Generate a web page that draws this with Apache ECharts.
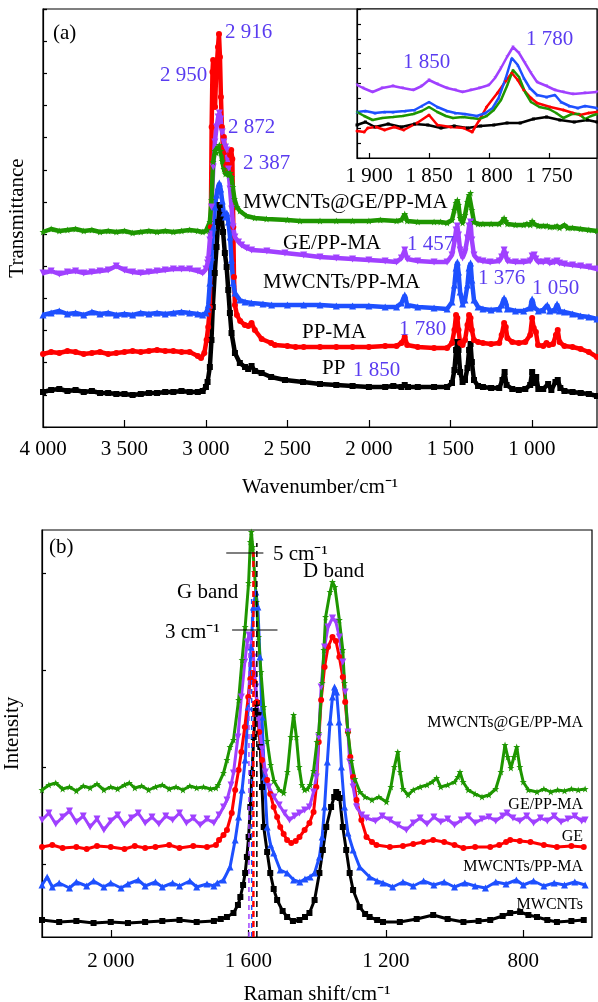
<!DOCTYPE html>
<html><head><meta charset="utf-8">
<script src="https://cdn.jsdelivr.net/npm/echarts@6/dist/echarts.min.js"></script>
<style>html,body{margin:0;padding:0;background:#fff}#c{width:598px;height:1002px}</style>
</head><body><div id="c"></div>
<script>
// ---------- Panel (a): FTIR, [wavenumber, transmittance (a.u., offset)] ----------
const aPP = [[4000,35],[3950,37],[3900,38],[3850,36],[3800,37],[3750,35],[3700,36],[3650,34],[3600,34],[3550,33],[3500,33],[3450,32],[3400,33],[3350,34],[3300,34],[3250,35],[3200,35],[3150,36],[3100,35],[3050,35],[3020,36],[3000,40],[2990,45],[2976,60],[2966,87],[2958,120],[2946,154],[2935,180],[2925,205],[2916,222],[2905,212],[2895,195],[2884,174],[2873,160],[2863,137],[2853,114],[2843,94],[2822,74],[2792,64],[2760,60],[2741,58],[2720,61],[2700,56],[2658,54],[2600,50],[2515,47],[2404,45],[2300,43],[2200,42],[2100,41],[2000,40],[1900,40],[1850,41],[1800,40],[1780,42],[1760,40],[1700,40],[1600,40],[1520,40],[1490,44],[1475,57],[1465,77],[1457,85],[1450,77],[1440,55],[1425,45],[1410,47],[1395,59],[1385,77],[1376,83],[1368,65],[1355,47],[1330,41],[1300,40],[1250,39],[1200,39],[1180,47],[1167,55],[1155,42],[1120,38],[1080,37],[1040,38],[1010,42],[998,55],[985,44],[973,50],[960,38],[930,38],[900,43],[880,37],[855,45],[841,47],[825,39],[800,36],[750,35],[700,34],[650,33],[600,31]];
const aPPMA = [[4000,73],[3950,75],[3900,74],[3850,76],[3800,75],[3750,73],[3700,74],[3650,75],[3600,73],[3550,74],[3500,75],[3450,76],[3400,75],[3350,76],[3300,77],[3250,76],[3200,76],[3150,75],[3100,75],[3050,71],[3030,69],[3010,74],[2996,87],[2986,100],[2976,120],[2970,200],[2965,300],[2960,355],[2956,367],[2950,340],[2944,320],[2938,350],[2932,365],[2926,380],[2920,393],[2914,370],[2908,330],[2902,300],[2896,280],[2890,290],[2884,275],[2876,262],[2868,255],[2860,262],[2852,272],[2845,277],[2838,268],[2832,200],[2828,150],[2822,122],[2810,112],[2790,106],[2761,102],[2740,101],[2720,104],[2700,97],[2658,88],[2600,84],[2577,82],[2500,81],[2450,80],[2400,80],[2300,80],[2200,80],[2100,80],[2000,80],[1900,81],[1830,81],[1800,84],[1780,90],[1765,82],[1700,80],[1600,79],[1520,79],[1490,84],[1475,97],[1465,112],[1457,109],[1450,97],[1440,84],[1425,82],[1410,87],[1395,102],[1385,112],[1376,109],[1368,97],[1355,87],[1330,85],[1300,84],[1250,83],[1200,84],[1185,92],[1170,104],[1160,100],[1150,89],[1120,85],[1080,84],[1040,85],[1010,92],[998,109],[988,99],[975,95],[962,82],[930,81],[910,84],[895,82],[870,83],[852,92],[841,97],[830,85],[800,81],[750,80],[700,78],[650,75],[600,70]];
const aMWPPMA = [[4000,112],[3950,114],[3900,116],[3850,113],[3800,114],[3750,112],[3700,115],[3650,113],[3600,114],[3550,112],[3500,113],[3450,112],[3400,114],[3350,113],[3300,114],[3250,113],[3200,114],[3150,115],[3100,114],[3050,113],[3020,112],[3000,114],[2990,118],[2986,122],[2976,144],[2966,170],[2955,200],[2945,220],[2935,232],[2925,240],[2918,244],[2910,238],[2900,226],[2890,214],[2880,210],[2872,214],[2862,205],[2852,190],[2843,167],[2833,144],[2822,134],[2792,127],[2760,125],[2720,124],[2650,123],[2597,122],[2500,122],[2400,122],[2300,122],[2200,121],[2100,121],[2000,121],[1900,120],[1830,120],[1800,124],[1780,132],[1765,122],[1700,120],[1600,119],[1520,118],[1490,125],[1475,142],[1465,159],[1457,165],[1450,155],[1440,135],[1425,123],[1410,127],[1395,142],[1385,159],[1376,164],[1368,147],[1355,127],[1330,120],[1300,118],[1250,117],[1200,118],[1185,122],[1170,129],[1160,125],[1150,118],[1100,116],[1050,116],[1010,119],[998,128],[985,120],[960,116],[930,117],[905,122],[890,116],[860,117],[845,123],[830,116],[800,115],[750,113],[700,111],[650,110],[600,108]];
const aGEPPMA = [[4000,154],[3950,156],[3900,153],[3850,155],[3800,156],[3750,154],[3700,155],[3650,156],[3600,157],[3550,161],[3500,157],[3450,155],[3400,154],[3350,155],[3300,156],[3250,157],[3200,158],[3150,158],[3100,158],[3050,156],[3020,154],[3000,158],[2990,164],[2986,167],[2976,187],[2966,220],[2955,260],[2945,285],[2935,300],[2925,310],[2918,314],[2910,308],[2900,295],[2890,285],[2880,280],[2872,277],[2862,258],[2852,238],[2842,218],[2833,200],[2822,190],[2800,185],[2781,182],[2750,179],[2720,177],[2626,176],[2515,174],[2400,172],[2300,170],[2200,169],[2100,168],[2000,167],[1900,166],[1830,165],[1800,169],[1780,177],[1765,168],[1700,166],[1600,165],[1520,165],[1490,172],[1475,185],[1465,197],[1457,201],[1450,192],[1440,177],[1425,169],[1410,175],[1395,189],[1385,201],[1376,205],[1368,187],[1355,172],[1330,167],[1300,166],[1256,165],[1200,166],[1185,170],[1170,177],[1160,172],[1150,166],[1100,165],[1050,165],[1010,166],[998,171],[985,172],[975,168],[960,165],[930,165],[905,166],[890,164],[860,165],[845,166],[830,164],[800,163],[750,162],[700,161],[650,160],[600,158]];
const aMWGEPPMA = [[4000,195],[3950,198],[3900,196],[3850,197],[3800,198],[3750,196],[3700,197],[3650,195],[3600,196],[3550,195],[3500,196],[3450,194],[3400,195],[3350,196],[3300,195],[3250,196],[3200,195],[3150,196],[3100,197],[3050,196],[3020,195],[3000,196],[2990,197],[2976,205],[2966,227],[2956,265],[2945,276],[2935,274],[2925,280],[2918,282],[2910,276],[2900,266],[2890,258],[2880,253],[2870,255],[2860,252],[2850,254],[2843,250],[2835,240],[2825,228],[2810,220],[2792,216],[2751,211],[2700,209],[2628,208],[2500,207],[2423,206],[2300,206],[2200,206],[2100,206],[2000,206],[1930,207],[1830,206],[1800,207],[1780,213],[1765,206],[1700,205],[1600,205],[1560,205],[1520,204],[1490,207],[1475,217],[1465,224],[1457,227],[1450,222],[1440,209],[1425,204],[1410,212],[1395,225],[1385,232],[1376,234],[1368,217],[1355,205],[1330,203],[1300,203],[1250,203],[1200,203],[1185,205],[1170,209],[1160,206],[1150,203],[1100,202],[1050,202],[1030,203],[1010,202],[998,206],[985,203],[960,201],[930,201],[905,201],[890,200],[860,200],[845,201],[830,199],[800,202],[780,199],[750,199],[700,198],[650,197],[600,196]];

// ---------- Inset (1910-1710 cm-1) ----------
const insPP = [[1910,33],[1903,36],[1895,31],[1884,34],[1873,31],[1862,34],[1851,33],[1840,30],[1829,32],[1818,30],[1807,32],[1796,33],[1785,35],[1774,35],[1763,39],[1752,41],[1741,38],[1729,36],[1718,38],[1710,36]];
const insPPMA = [[1910,27],[1904,26],[1901,30],[1894,31],[1887,28],[1879,31],[1871,28],[1860,35],[1850,43],[1843,33],[1832,31],[1821,30],[1814,26],[1808,38],[1802,51],[1793,65],[1786,77],[1781,85],[1776,78],[1771,68],[1765,60],[1760,55],[1749,51],[1738,48],[1730,45],[1724,43],[1717,45],[1710,46]];
const insMWPPMA = [[1910,46],[1903,47],[1895,45],[1887,46],[1880,46],[1870,47],[1862,48],[1856,52],[1850,56],[1843,51],[1835,47],[1828,45],[1820,44],[1810,42],[1803,45],[1797,50],[1792,60],[1786,80],[1781,100],[1776,93],[1771,80],[1766,70],[1760,63],[1752,61],[1745,63],[1740,56],[1733,52],[1726,50],[1720,52],[1710,50]];
const insGEPPMA = [[1910,73],[1905,70],[1897,66],[1889,70],[1880,72],[1872,70],[1863,68],[1856,72],[1850,78],[1843,74],[1835,70],[1828,68],[1822,66],[1815,68],[1808,70],[1800,73],[1795,80],[1790,90],[1785,101],[1780,111],[1775,105],[1770,95],[1765,85],[1760,76],[1752,72],[1745,68],[1738,66],[1730,64],[1720,65],[1710,66]];
const insMWGEPPMA = [[1910,46],[1904,42],[1897,38],[1889,40],[1880,41],[1872,42],[1863,44],[1856,47],[1850,51],[1843,46],[1836,42],[1830,40],[1822,41],[1815,40],[1808,39],[1802,42],[1796,48],[1790,58],[1785,72],[1780,88],[1775,81],[1770,66],[1765,56],[1758,51],[1750,49],[1744,45],[1738,40],[1731,44],[1725,44],[1720,39],[1715,42],[1710,44]];

// ---------- Panel (b): Raman, [Raman shift, intensity (a.u., offset)] ----------
const bMWCNTs = [[2200,17],[2150,15],[2100,16],[2050,14],[2000,15],[1950,14],[1900,15],[1850,16],[1800,17],[1750,15],[1700,16],[1680,18],[1662,20],[1643,24],[1630,32],[1623,40],[1615,52],[1609,64],[1604,80],[1599,100],[1594,130],[1589,164],[1584,200],[1579,226],[1575,234],[1570,222],[1565,190],[1560,150],[1555,110],[1545,85],[1536,64],[1526,48],[1516,37],[1500,26],[1487,20],[1470,16],[1451,17],[1435,20],[1422,24],[1407,37],[1393,64],[1383,87],[1373,110],[1359,130],[1350,140],[1344,145],[1339,143],[1334,139],[1325,110],[1315,87],[1305,64],[1295,47],[1276,30],[1260,23],[1247,20],[1225,17],[1208,15],[1159,15],[1110,18],[1062,22],[1020,18],[974,15],[930,16],[896,17],[860,21],[838,24],[809,25],[785,22],[760,20],[730,17],[702,15],[660,16],[624,17]];
const bMWPPMA = [[2200,52],[2185,60],[2170,50],[2150,54],[2120,49],[2100,55],[2070,51],[2050,56],[2020,50],[2000,54],[1970,49],[1950,53],[1920,57],[1900,51],[1870,55],[1850,50],[1820,54],[1800,51],[1770,56],[1750,50],[1720,53],[1700,51],[1690,54],[1672,57],[1653,70],[1638,97],[1628,120],[1618,147],[1609,177],[1600,230],[1592,290],[1585,330],[1578,345],[1572,330],[1566,280],[1560,220],[1553,160],[1545,110],[1535,92],[1526,84],[1507,67],[1487,64],[1468,57],[1450,55],[1435,58],[1420,60],[1407,64],[1393,80],[1385,100],[1378,130],[1370,175],[1362,215],[1355,240],[1349,250],[1343,245],[1336,215],[1329,170],[1320,130],[1310,104],[1295,87],[1276,70],[1247,60],[1225,56],[1208,54],[1180,50],[1150,55],[1120,51],[1090,56],[1060,52],[1030,55],[1000,50],[970,54],[940,51],[910,49],[880,55],[850,53],[820,57],[800,52],[770,56],[740,51],[710,54],[680,52],[650,55],[620,52]];
const bGE = [[2200,90],[2170,92],[2140,89],[2100,90],[2070,88],[2040,91],[2000,90],[1960,88],[1930,91],[1900,89],[1870,90],[1830,92],[1800,89],[1760,91],[1720,90],[1694,92],[1685,97],[1672,102],[1662,107],[1648,124],[1638,147],[1628,167],[1620,185],[1610,210],[1600,240],[1594,258],[1588,264],[1582,255],[1575,235],[1568,205],[1560,177],[1545,157],[1536,143],[1526,130],[1516,120],[1507,110],[1497,103],[1487,97],[1475,94],[1462,96],[1451,100],[1436,107],[1422,114],[1410,125],[1402,150],[1395,195],[1388,237],[1378,270],[1368,290],[1355,300],[1345,296],[1335,280],[1325,260],[1318,235],[1310,205],[1303,180],[1295,160],[1285,137],[1271,117],[1256,100],[1240,95],[1227,92],[1188,90],[1150,91],[1120,93],[1090,95],[1062,97],[1030,95],[1000,92],[974,89],[940,90],[896,90],[870,92],[850,95],[838,97],[810,96],[779,95],[740,92],[702,90],[660,91],[624,90]];
const bGEPPMA = [[2200,117],[2180,124],[2160,113],[2140,120],[2120,126],[2100,115],[2080,121],[2060,110],[2040,118],[2020,107],[2000,116],[1980,122],[1960,112],[1940,119],[1920,124],[1900,114],[1880,120],[1860,113],[1840,121],[1820,117],[1800,124],[1780,114],[1760,119],[1740,112],[1720,118],[1700,114],[1685,122],[1672,130],[1662,137],[1650,152],[1643,164],[1630,200],[1620,240],[1610,275],[1603,295],[1598,302],[1592,298],[1585,280],[1578,250],[1570,218],[1560,188],[1550,165],[1540,150],[1525,140],[1510,132],[1495,124],[1480,117],[1465,121],[1451,124],[1436,127],[1422,130],[1410,145],[1402,160],[1395,200],[1388,250],[1378,290],[1368,310],[1355,319],[1345,315],[1335,300],[1325,275],[1318,245],[1310,205],[1305,175],[1295,150],[1285,130],[1270,122],[1256,119],[1230,116],[1210,121],[1188,117],[1165,112],[1140,107],[1120,114],[1100,119],[1080,113],[1060,120],[1040,115],[1020,118],[1000,112],[980,117],[960,121],[940,114],[920,118],[900,120],[880,116],[860,121],[847,124],[830,119],[810,116],[790,121],[770,114],[750,119],[730,116],[710,121],[690,115],[670,118],[650,121],[630,116],[620,117]];
const bMWGEPPMA = [[2200,147],[2180,152],[2160,154],[2140,148],[2120,150],[2100,146],[2080,151],[2060,149],[2040,153],[2020,147],[2000,150],[1980,148],[1960,152],[1946,154],[1930,149],[1910,151],[1890,147],[1870,150],[1850,152],[1830,148],[1810,150],[1790,147],[1770,151],[1750,149],[1730,150],[1710,148],[1694,149],[1688,152],[1672,164],[1662,177],[1653,190],[1643,197],[1628,237],[1618,277],[1609,310],[1599,354],[1594,395],[1591,405],[1587,390],[1582,365],[1576,335],[1570,300],[1563,265],[1555,230],[1545,196],[1535,172],[1525,156],[1510,147],[1497,144],[1486,165],[1476,200],[1468,222],[1460,200],[1452,170],[1444,152],[1436,147],[1428,148],[1420,152],[1410,166],[1400,195],[1395,204],[1385,254],[1380,287],[1375,320],[1362,345],[1355,355],[1348,350],[1335,317],[1325,287],[1320,254],[1310,204],[1300,176],[1290,158],[1275,145],[1260,140],[1240,137],[1220,140],[1198,135],[1185,150],[1175,170],[1165,185],[1158,165],[1150,148],[1135,142],[1120,147],[1100,150],[1080,152],[1065,155],[1052,159],[1040,150],[1020,152],[1000,155],[990,160],[984,165],[975,155],[960,147],[940,143],[920,140],[900,142],[880,148],[865,165],[853,192],[845,180],[836,169],[827,180],[819,190],[810,170],[800,155],[785,147],[760,145],[740,148],[720,145],[700,147],[680,146],[660,148],[640,147],[620,148]];

// G-band guide lines and shift bars (Raman shift, intensity)
const gLineBlack = [[1575,0],[1575,394]];
const gLineRed = [[1585,0],[1585,385]];
const gLineBlue = [[1590,0],[1590,340]];
const gLinePurple = [[1598,0],[1598,300]];
const bar5 = [[1664,384],[1556,384]];
const bar3 = [[1647,307],[1515,307]];

// tick labels
const aTicks = [1000,1500,2000,2500,3000,3500,4000];
const insTicks = [1750,1800,1850,1900];
const bTicks = [800,1200,1600,2000];
const bYTicks = [73,170,267,364];

const FF = "'Liberation Serif','Times New Roman',serif";
const C = {k:'#000000', r:'#ff0000', b:'#1e50ff', p:'#a040ff', g:'#1e9600', ann:'#5a3cf0'};
const SYM = {
  k:'rect', r:'circle', b:'triangle',
  p:'path://M0,0L10,0L5,9Z',
  g:'path://M5,0L6.2,3.5L10,3.5L7,5.8L8.1,9.5L5,7.2L1.9,9.5L3,5.8L0,3.5L3.8,3.5Z'
};
const fmt = v => String(v).replace(/\B(?=(\d{3})+(?!\d))/g,' ');

function S(data, key, gi, lw, ss){
  return {type:'line', data, xAxisIndex:gi, yAxisIndex:gi, symbol:SYM[key], symbolSize:ss, showSymbol:true,
    lineStyle:{color:C[key], width:lw}, itemStyle:{color:C[key]}, animation:false, silent:true, clip:true, z:3};
}
function L(data, color, type, w){
  return {type:'line', data, xAxisIndex:2, yAxisIndex:2, symbol:'none', lineStyle:{color, type, width:w}, animation:false, silent:true, z:4};
}
const axisLineS = {show:true, lineStyle:{color:'#000', width:1.2}};
const tickS = {lineStyle:{color:'#000', width:1.2}};
const lblS = {color:'#000', fontSize:21, fontFamily:FF};

function T(text, x, y, opt){
  return {type:'text', x, y, z:10, style:Object.assign({text, fill:'#000', fontSize:21, fontFamily:FF, verticalAlign:'middle', align:'left'}, opt||{})};
}
const G = {show:true, borderColor:'#000', borderWidth:1.2, outerBoundsMode:'none', containLabel:false};

const chart = echarts.init(document.getElementById('c'), null, {renderer:'canvas'});
chart.setOption({
  backgroundColor:'#fff',
  animation:false,
  grid:[
    Object.assign({left:43, top:9, width:554, height:418, backgroundColor:'transparent'}, G),
    Object.assign({left:357, top:9, width:240, height:149, backgroundColor:'#fff', z:5}, G),
    Object.assign({left:42, top:530, width:550, height:407, backgroundColor:'transparent'}, G)
  ],
  xAxis:[
    {gridIndex:0, type:'value', min:600, max:4000, inverse:true, axisLine:axisLineS,
     axisTick:Object.assign({inside:true, length:7, customValues:aTicks.slice(0,6)}, tickS),
     axisLabel:Object.assign({customValues:aTicks, formatter:fmt, margin:12}, lblS),
     splitLine:{show:false}, name:'Wavenumber/cm\u207B\u00B9', nameLocation:'middle', nameGap:50, nameTextStyle:lblS},
    {gridIndex:1, type:'value', min:1710, max:1910, inverse:true, axisLine:axisLineS,
     axisTick:Object.assign({inside:true, length:5, customValues:insTicks}, tickS),
     axisLabel:Object.assign({customValues:insTicks, formatter:fmt, margin:8}, lblS),
     splitLine:{show:false}, z:6},
    {gridIndex:2, type:'value', min:600, max:2200, inverse:true, axisLine:axisLineS,
     axisTick:Object.assign({inside:true, length:7, customValues:bTicks}, tickS),
     axisLabel:Object.assign({customValues:bTicks, formatter:fmt, margin:14}, lblS),
     splitLine:{show:false}, name:'Raman shift/cm\u207B\u00B9', nameLocation:'middle', nameGap:47, nameTextStyle:lblS}
  ],
  yAxis:[
    {gridIndex:0, type:'value', min:0, max:418, interval:32.15, axisLine:axisLineS,
     axisTick:Object.assign({inside:true, length:4}, tickS), axisLabel:{show:false}, splitLine:{show:false},
     name:'Transmittance', nameLocation:'middle', nameGap:15, nameTextStyle:lblS},
    {gridIndex:1, type:'value', min:0, max:149, interval:14.9, axisLine:axisLineS,
     axisTick:Object.assign({inside:true, length:4}, tickS), axisLabel:{show:false}, splitLine:{show:false}, z:6},
    {gridIndex:2, type:'value', min:0, max:407, axisLine:axisLineS,
     axisTick:Object.assign({inside:true, length:4, customValues:bYTicks}, tickS), axisLabel:{show:false}, splitLine:{show:false},
     name:'Intensity', nameLocation:'middle', nameGap:19, nameTextStyle:lblS}
  ],
  series:[
    S(aPP,'k',0,4.5,6), S(aPPMA,'r',0,4.5,6), S(aMWPPMA,'b',0,4.5,7), S(aGEPPMA,'p',0,4.5,7), S(aMWGEPPMA,'g',0,4.5,7),
    Object.assign(S(insPP,'k',1,2.5,3),{z:7}), Object.assign(S(insPPMA,'r',1,2.5,3),{z:7}), Object.assign(S(insMWPPMA,'b',1,2.5,3),{z:7}),
    Object.assign(S(insGEPPMA,'p',1,2.5,3),{z:7}), Object.assign(S(insMWGEPPMA,'g',1,2.5,3),{z:7}),
    S(bMWCNTs,'k',2,3,6), S(bMWPPMA,'b',2,3,7), S(bGE,'r',2,3,6), S(bGEPPMA,'p',2,3,7), S(bMWGEPPMA,'g',2,3,7),
    L(gLinePurple,C.p,[5,4],1.5), L(gLineBlue,C.b,[5,4],1.5), L(gLineRed,C.r,[6,4],2.5), L(gLineBlack,C.k,[6,4],1.5),
    L(bar5,'#000','solid',1.2), L(bar3,'#000','solid',1.2)
  ],
  graphic:[
    T('(a)',53,33), T('(b)',49,547),
    T('2 916',225,32,{fill:C.ann}), T('2 950',160,75,{fill:C.ann}), T('2 872',228,127,{fill:C.ann}), T('2 387',243,163,{fill:C.ann}),
    T('1 457',407,244,{fill:C.ann}), T('1 376',478,278,{fill:C.ann}), T('1 050',532,288,{fill:C.ann}),
    T('1 780',399,329,{fill:C.ann}), T('1 850',353,370,{fill:C.ann}),
    T('1 850',403,62,{fill:C.ann}), T('1 780',526,39,{fill:C.ann}),
    T('MWCNTs@GE/PP-MA',243,202), T('GE/PP-MA',283,243), T('MWCNTs/PP-MA',263,282), T('PP-MA',302,332), T('PP',322,368),
    T('MWCNTs@GE/PP-MA',583,723,{fontSize:16,align:'right'}), T('GE/PP-MA',583,805,{fontSize:16,align:'right'}),
    T('GE',583,837,{fontSize:16,align:'right'}), T('MWCNTs/PP-MA',583,867,{fontSize:16,align:'right'}),
    T('MWCNTs',583,905,{fontSize:16,align:'right'}),
    T('5 cm\u207B\u00B9',273,554), T('D band',303,571), T('G band',177,592), T('3 cm\u207B\u00B9',165,632)
  ]
});
</script></body></html>
